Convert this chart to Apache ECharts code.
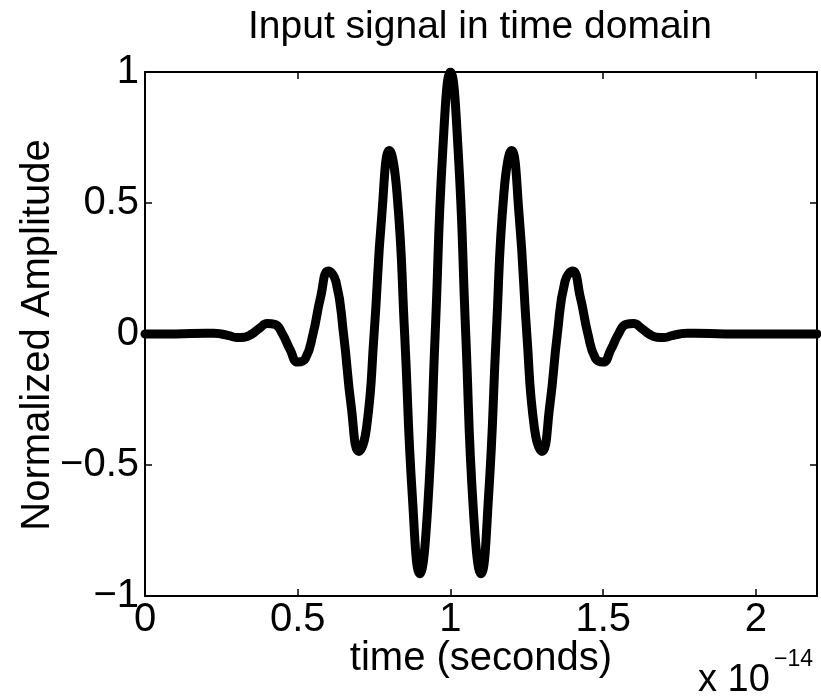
<!DOCTYPE html>
<html>
<head>
<meta charset="utf-8">
<script src="https://cdn.jsdelivr.net/npm/echarts@6/dist/echarts.min.js"></script>
<style>html,body{margin:0;padding:0;background:#fff}#c{width:821px;height:700px}</style>
</head>
<body>
<div id="c"></div>
<script>
const titleText = 'Input signal in time domain';
const xName = 'time (seconds)';
const yName = 'Normalized Amplitude';
const xTicks = [0, 0.5, 1, 1.5, 2];
const yTicks = [-1, -0.5, 0, 0.5, 1];
const timeValues = [0, 0.1, 0.2, 0.225, 0.25, 0.275, 0.3, 0.325, 0.35, 0.375, 0.4, 0.425, 0.45, 0.475, 0.5,
  0.525, 0.55, 0.575, 0.6, 0.625, 0.65, 0.675, 0.7, 0.725, 0.75, 0.775, 0.8, 0.825, 0.85, 0.875, 0.9,
  0.925, 0.95, 0.975, 1.0, 1.025, 1.05, 1.075, 1.1, 1.125, 1.15, 1.175, 1.2, 1.225, 1.25, 1.275, 1.3,
  1.325, 1.35, 1.375, 1.4, 1.425, 1.45, 1.475, 1.5, 1.525, 1.55, 1.575, 1.6, 1.625, 1.65, 1.675, 1.7,
  1.725, 1.75, 1.775, 1.8, 1.9, 2.0, 2.1, 2.2];
const amplitude = [0, 0, 0.003, 0.003, 0, -0.0065, -0.013, -0.012, 0, 0.022, 0.040, 0.037, 0, -0.060, -0.107,
  -0.094, 0, 0.141, 0.240, 0.201, 0, -0.275, -0.448, -0.360, 0, 0.450, 0.700, 0.538, 0, -0.615, -0.915,
  -0.672, 0, 0.703, 1.0, 0.703, 0, -0.672, -0.915, -0.615, 0, 0.538, 0.700, 0.450, 0, -0.360, -0.448,
  -0.275, 0, 0.201, 0.240, 0.141, 0, -0.094, -0.107, -0.060, 0, 0.037, 0.040, 0.022, 0, -0.012, -0.013,
  -0.0065, 0, 0.003, 0.003, 0, 0, 0, 0];

const FONT = '"Liberation Sans", Arial, sans-serif';
const chart = echarts.init(document.getElementById('c'), null, {renderer: 'canvas'});
const fmt = v => {
  const ok = xTicks.concat(yTicks).some(t => Math.abs(t - v) < 1e-9);
  if (!ok) return '';
  return String(v).replace('-', '\u2212');
};
const axisCommon = () => ({
  axisLine: {show: true, onZero: false, lineStyle: {color: '#000', width: 2}},
  axisTick: {show: true, inside: true, length: 7, lineStyle: {color: '#000', width: 1.5}},
  splitLine: {show: false}
});
chart.setOption({
  animation: false,
  backgroundColor: '#fff',
  grid: {left: 145, right: 4, top: 72, bottom: 104, containLabel: false},
  xAxis: [
    Object.assign({type: 'value', min: 0, max: 2.2, interval: 0.5, position: 'bottom',
      axisLabel: {show: true, formatter: fmt, color: '#000', fontSize: 40, fontFamily: FONT, margin: 4, showMaxLabel: false}}, axisCommon()),
    Object.assign({type: 'value', min: 0, max: 2.2, interval: 0.5, position: 'top',
      axisLabel: {show: false}}, axisCommon())
  ],
  yAxis: [
    Object.assign({type: 'value', min: -1, max: 1, interval: 0.5, position: 'left',
      axisLabel: {show: true, formatter: fmt, color: '#000', fontSize: 40, fontFamily: FONT, margin: 6}}, axisCommon()),
    Object.assign({type: 'value', min: -1, max: 1, interval: 0.5, position: 'right',
      axisLabel: {show: false}}, axisCommon())
  ],
  series: [{
    type: 'line',
    xAxisIndex: 0,
    yAxisIndex: 0,
    data: timeValues.map((t, i) => [t, amplitude[i]]),
    smooth: 0.5,
    showSymbol: false,
    clip: true,
    lineStyle: {color: '#000', width: 9, cap: 'round', join: 'round'}
  }],
  graphic: [
    {type: 'text', x: 480, y: 27, style: {text: titleText, fill: '#000', font: '39px ' + FONT, textAlign: 'center', textVerticalAlign: 'middle'}},
    {type: 'text', x: 481, y: 659, style: {text: xName, fill: '#000', font: '40px ' + FONT, textAlign: 'center', textVerticalAlign: 'middle'}},
    {type: 'text', x: 38, y: 335, rotation: Math.PI / 2, style: {text: yName, fill: '#000', font: '40px ' + FONT, textAlign: 'center', textVerticalAlign: 'middle'}},
    {type: 'text', x: 698, y: 681, style: {text: 'x 10', fill: '#000', font: '38px ' + FONT, textVerticalAlign: 'middle'}},
    {type: 'text', x: 774, y: 660, style: {text: '\u221214', fill: '#000', font: '23px ' + FONT, textVerticalAlign: 'middle'}}
  ]
});
</script>
</body>
</html>
